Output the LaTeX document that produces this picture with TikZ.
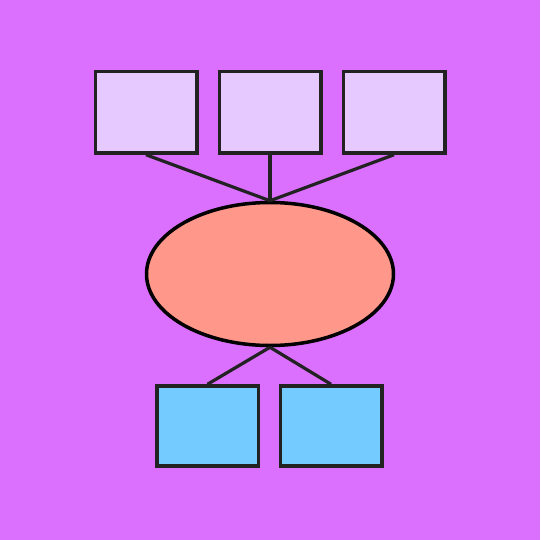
\documentclass[tikz,border=0pt]{standalone}
\usetikzlibrary{positioning,shapes.geometric}
\definecolor{bgpurple}{HTML}{DB70FE}
\definecolor{lavender}{HTML}{E5C9FF}
\definecolor{salmon}{HTML}{FF978B}
\definecolor{skyblue}{HTML}{74CBFF}
\definecolor{inkline}{HTML}{222222}
\begin{document}
\begin{tikzpicture}[
    x=1pt, y=-1pt,
    line width=3.5pt,
    top_box/.style={draw=inkline, fill=lavender, rectangle, inner sep=0pt, minimum width=101.5pt, minimum height=81.5pt},
    bottom_box/.style={draw=inkline, fill=skyblue, rectangle, inner sep=0pt, minimum width=101.5pt, minimum height=80pt},
    hub_node/.style={draw=black, fill=salmon, ellipse, inner sep=0pt, minimum width=247pt, minimum height=143pt},
    link/.style={draw=inkline, line width=3.2pt}
]

% --- BACKGROUND ---
\fill[bgpurple] (0,0) rectangle (540,540);
\useasboundingbox (0,0) rectangle (540,540);

% --- NODES ---

% Centre
\node[hub_node] (hub) at (270,274) {};

% Top row
\node[top_box, above=46pt of hub] (top_mid) {};
\node[top_box, left=19pt of top_mid] (top_left) {};
\node[top_box, right=19pt of top_mid] (top_right) {};

% Bottom row
\node[bottom_box, below=37pt of hub, xshift=-62.5pt] (bot_left) {};
\node[bottom_box, right=18.5pt of bot_left] (bot_right) {};

% --- EDGES ---
\draw[link] (top_left.south) -- (hub.north);
\draw[link] (top_mid.south) -- (hub.north);
\draw[link] (top_right.south) -- (hub.north);
\draw[link] (hub.south) -- (bot_left.north);
\draw[link] (hub.south) -- (bot_right.north);

\end{tikzpicture}
\end{document}
